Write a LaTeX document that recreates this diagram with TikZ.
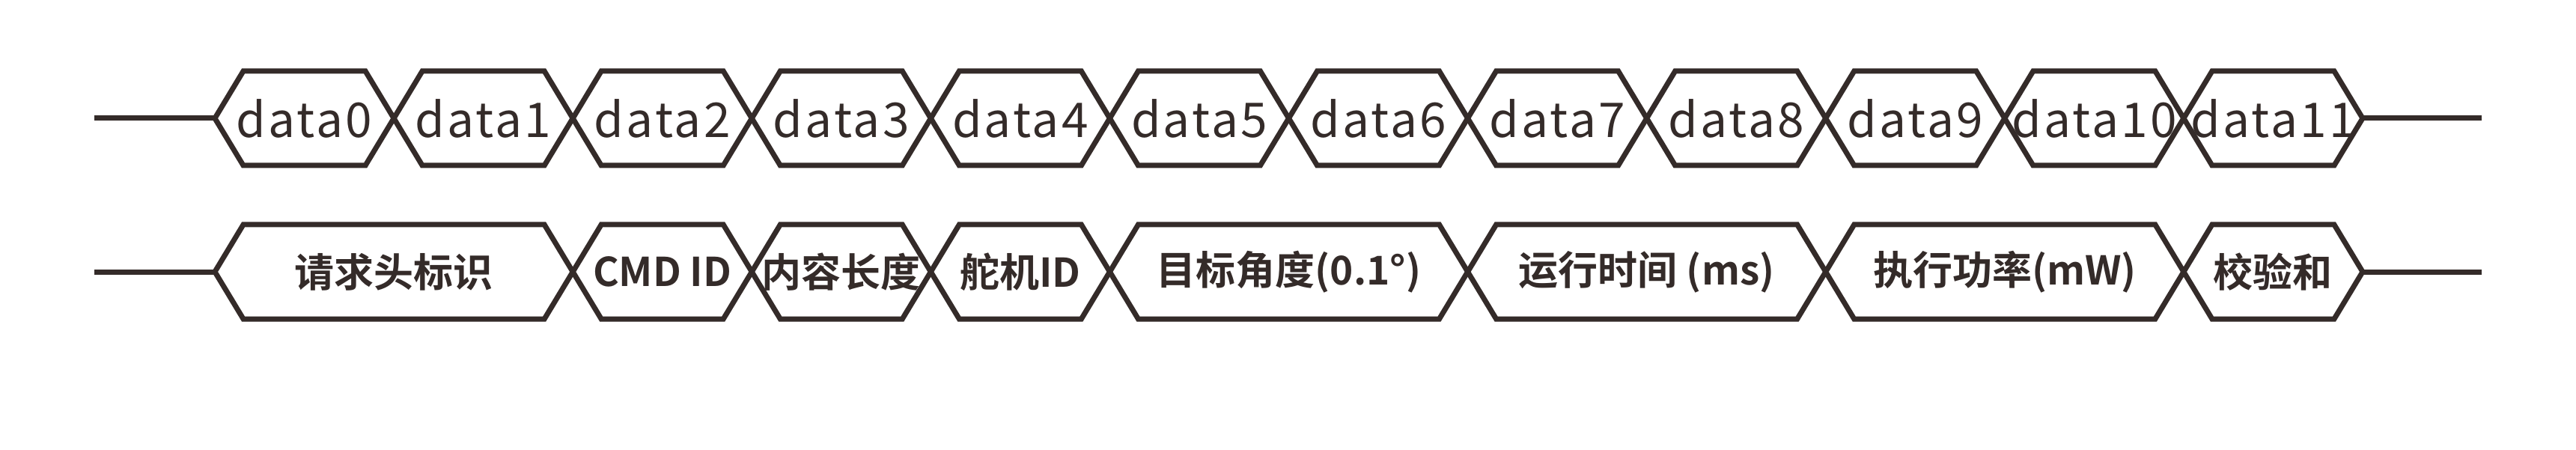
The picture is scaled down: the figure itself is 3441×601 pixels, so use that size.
\documentclass[tikz,border=0pt]{standalone}
\usepackage{fontspec}
\newfontfamily\cjk{Noto Sans CJK SC}[BoldFont={Noto Sans CJK SC Bold}]
\newfontfamily\cjkwide{Noto Sans CJK SC}[LetterSpace=5]
\definecolor{ink}{RGB}{52,43,41}
\tikzset{
  wave/.style={draw=ink, line width=7pt, line join=miter},
  lblA/.style={text=ink, inner sep=0pt, font=\cjkwide\fontsize{64}{74}\selectfont},
  lblB/.style={text=ink, inner sep=0pt, font=\cjk\bfseries\fontsize{53}{63}\selectfont},
}
\begin{document}
\begin{tikzpicture}[x=1pt,y=-1pt]
\useasboundingbox (0,0) rectangle (3441,601);
\def\pitch{239.08}
% row 1
\coordinate (r1s) at (126,158);
\coordinate (r1a) at (287,158);
\coordinate (r1b) at (3156,158);
\coordinate (r1e) at (3315,158);
\draw[wave] (r1s) -- (r1a);
\draw[wave] (r1b) -- (r1e);
\foreach \i in {0,...,11}{
  \pgfmathsetmacro\xa{287+\pitch*\i}
  \pgfmathsetmacro\xb{287+\pitch*(\i+1)}
  \draw[wave] (\xa,158) -- (\xa+38,95) -- (\xb-38,95) -- (\xb,158) -- (\xb-38,221) -- (\xa+38,221) -- cycle;
  \node[lblA] (d\i) at ({(\xa+\xb)/2},158) {data\i};
}
% row 2
\coordinate (r2s) at (126,363);
\coordinate (r2a) at (287,363);
\coordinate (r2b) at (3156,363);
\coordinate (r2e) at (3315,363);
\draw[wave] (r2s) -- (r2a);
\draw[wave] (r2b) -- (r2e);
\foreach \a/\b/\t [count=\k] in {0/2/请求头标识, 2/3/CMD ID, 3/4/内容长度, 4/5/舵机ID, 5/7/目标角度(0.1°), 7/9/运行时间 (ms), 9/11/执行功率(mW), 11/12/校验和}{
  \pgfmathsetmacro\xa{287+\pitch*\a}
  \pgfmathsetmacro\xb{287+\pitch*\b}
  \draw[wave] (\xa,363) -- (\xa+38,300) -- (\xb-38,300) -- (\xb,363) -- (\xb-38,426) -- (\xa+38,426) -- cycle;
  \node[lblB] (f\k) at ({(\xa+\xb)/2},363) {\t};
}
\end{tikzpicture}
\end{document}
